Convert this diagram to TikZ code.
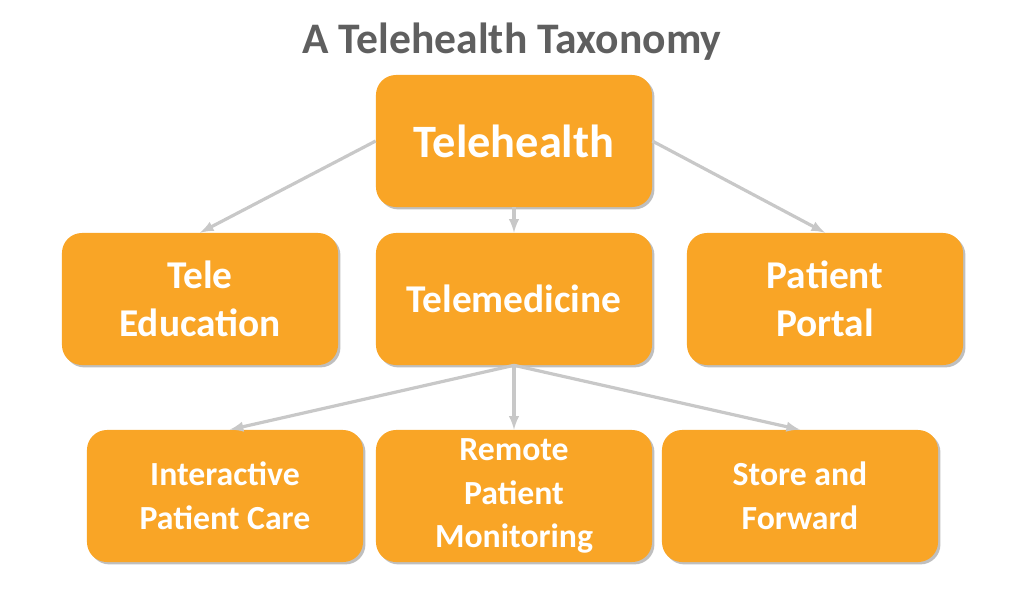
\documentclass[tikz,border=0pt]{standalone}
\usepackage{fontspec}
\setmainfont{Carlito}
\usetikzlibrary{positioning,shadows}
\definecolor{boxorange}{HTML}{F9A526}
\definecolor{arrowgray}{HTML}{C8C8C8}
\definecolor{titlegray}{HTML}{5F5F5F}
\begin{document}
\begin{tikzpicture}[x=0.025cm,y=-0.025cm]
        \tikzstyle{box}=[rectangle, rounded corners=0.5cm, fill=boxorange, text=white,
          minimum width=6.9cm, minimum height=3.3cm, align=center, font=\bfseries,
          drop shadow={shadow xshift=0.06cm, shadow yshift=-0.06cm, fill=black, opacity=0.25}];
        \tikzstyle{link}=[-latex, line width=0.08cm, arrowgray];

        \useasboundingbox (0,0) rectangle (1024,599);

        \node[font=\fontsize{31}{36}\selectfont\bfseries, text=titlegray] (title) at (512,42) {A Telehealth Taxonomy};

        \node[box, font=\fontsize{33}{38}\selectfont\bfseries] (th) at (514,141) {Telehealth};

        \node[box, font=\fontsize{28}{34}\selectfont\bfseries] (edu) at (200,299) {Tele\\Education};
        \node[box, font=\fontsize{28}{34}\selectfont\bfseries] (med) at (514,299) {Telemedicine};
        \node[box, font=\fontsize{28}{34}\selectfont\bfseries] (portal) at (825,299) {Patient\\Portal};

        \node[box, font=\fontsize{24}{31}\selectfont\bfseries] (ipc) at (225,496) {Interactive\\Patient Care};
        \node[box, font=\fontsize{24}{31}\selectfont\bfseries] (rpm) at (514,496) {Remote\\Patient\\Monitoring};
        \node[box, font=\fontsize{24}{31}\selectfont\bfseries] (saf) at (800,496) {Store and\\Forward};

        \draw[link] (th.west) -- (edu.north);
        \draw[link] (th.south) -- (med.north);
        \draw[link] (th.east) -- (portal.north);

        \draw[link] (med.south) -- ([xshift=0.12cm]ipc.north);
        \draw[link] (med.south) -- (rpm.north);
        \draw[link] (med.south) -- (saf.north);
\end{tikzpicture}
\end{document}
